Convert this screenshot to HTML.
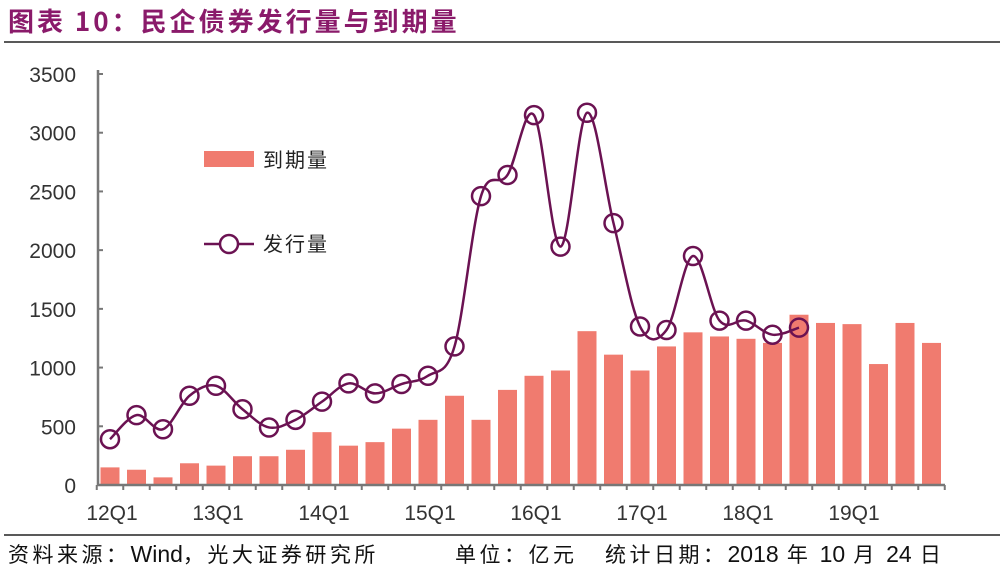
<!DOCTYPE html>
<html><head><meta charset="utf-8"><style>
body{margin:0;background:#fff;width:1000px;height:573px;overflow:hidden;font-family:"Liberation Sans","Noto Sans CJK SC",sans-serif}
</style></head><body>
<svg id="s" width="1000" height="573" xmlns="http://www.w3.org/2000/svg" font-family="Liberation Sans, Noto Sans CJK SC, sans-serif">
<text x="8" y="31" font-size="26" font-weight="bold" fill="#8a1a6a" letter-spacing="3" font-family="Noto Sans CJK SC, sans-serif">图表 10：民企债券发行量与到期量</text>
<line x1="4" y1="42" x2="1000" y2="42" stroke="#222" stroke-width="1.5"/>
<line x1="4" y1="535" x2="1000" y2="535" stroke="#222" stroke-width="1.5"/>
<g font-size="21" fill="#111" font-family="Noto Sans CJK SC, sans-serif" letter-spacing="3.5">
<text x="8" y="562">资料来源：<tspan font-family="Liberation Sans" font-size="23" letter-spacing="0">Wind</tspan>，光大证券研究所</text>
<text x="455" y="562">单位：亿元</text>
<text x="605" y="562">统计日期：<tspan font-family="Liberation Sans" font-size="23" letter-spacing="0">2018</tspan> 年 <tspan font-family="Liberation Sans" font-size="23" letter-spacing="0">10</tspan> 月 <tspan font-family="Liberation Sans" font-size="23" letter-spacing="0">24</tspan> 日</text>
</g>
<g id="g"></g>
</svg>
<script>
var g=document.getElementById('g'),h='';
var Y=function(v){return 485-v*411/3500};
var X=function(i){return 110+i*26.5};
for(var k=0;k<=7;k++){var v=k*500;h+='<text x="76" y="'+(Y(v)+8)+'" font-size="21" fill="#333" text-anchor="end">'+v+'</text>';h+='<line x1="98" y1="'+Y(v)+'" x2="103" y2="'+Y(v)+'" stroke="#777" stroke-width="2"/>';}
var bars=[150,130,65,185,165,245,245,300,450,335,365,480,555,760,555,810,930,975,1310,1110,975,1180,1300,1265,1245,1210,1450,1380,1370,1030,1380,1210];
bars.forEach(function(v,i){h+='<rect x="'+(X(i)-9.5)+'" y="'+Y(v)+'" width="19" height="'+(485-Y(v))+'" fill="#f07b6f"/>';});
h+='<line x1="98" y1="70" x2="98" y2="486" stroke="#777" stroke-width="2.5"/>';
h+='<line x1="97" y1="485" x2="945" y2="485" stroke="#777" stroke-width="2.5"/>';
for(var i=0;i<=32;i++){var x=X(i)-13.25;h+='<line x1="'+x+'" y1="485" x2="'+x+'" y2="490" stroke="#777" stroke-width="2"/>';}
var labs=['12Q1','13Q1','14Q1','15Q1','16Q1','17Q1','18Q1','19Q1'];
labs.forEach(function(l,j){h+='<text x="'+(X(j*4)+2)+'" y="520" font-size="21" fill="#333" text-anchor="middle">'+l+'</text>';});
var line=[390,595,475,760,845,645,490,555,710,865,780,860,930,1180,2460,2640,3150,2030,3170,2230,1350,1320,1950,1400,1400,1280,1340];
var p=line.map(function(v,i){return [X(i),Y(v)]});
var d='M'+p[0][0]+','+p[0][1];
for(var i=0;i<p.length-1;i++){var p0=p[i-1]||p[i],p1=p[i],p2=p[i+1],p3=p[i+2]||p2;
d+=' C'+(p1[0]+(p2[0]-p0[0])/6)+','+(p1[1]+(p2[1]-p0[1])/6)+' '+(p2[0]-(p3[0]-p1[0])/6)+','+(p2[1]-(p3[1]-p1[1])/6)+' '+p2[0]+','+p2[1];}
h+='<path d="'+d+'" fill="none" stroke="#6b1252" stroke-width="2.5"/>';
p.forEach(function(q){h+='<circle cx="'+q[0]+'" cy="'+q[1]+'" r="9" fill="none" stroke="#6b1252" stroke-width="2.5"/>';});
h+='<rect x="204" y="151" width="50" height="16" fill="#f07b6f"/>';
h+='<text x="263" y="167" font-size="20" fill="#222" letter-spacing="2" font-family="Noto Sans CJK SC, sans-serif">到期量</text>';
h+='<line x1="204" y1="244" x2="254" y2="244" stroke="#6b1252" stroke-width="2.5"/><circle cx="229" cy="244" r="9" fill="#fff" stroke="#6b1252" stroke-width="2.5"/>';
h+='<text x="263" y="251" font-size="20" fill="#222" letter-spacing="2" font-family="Noto Sans CJK SC, sans-serif">发行量</text>';
g.innerHTML=h;
</script>
</body></html>
